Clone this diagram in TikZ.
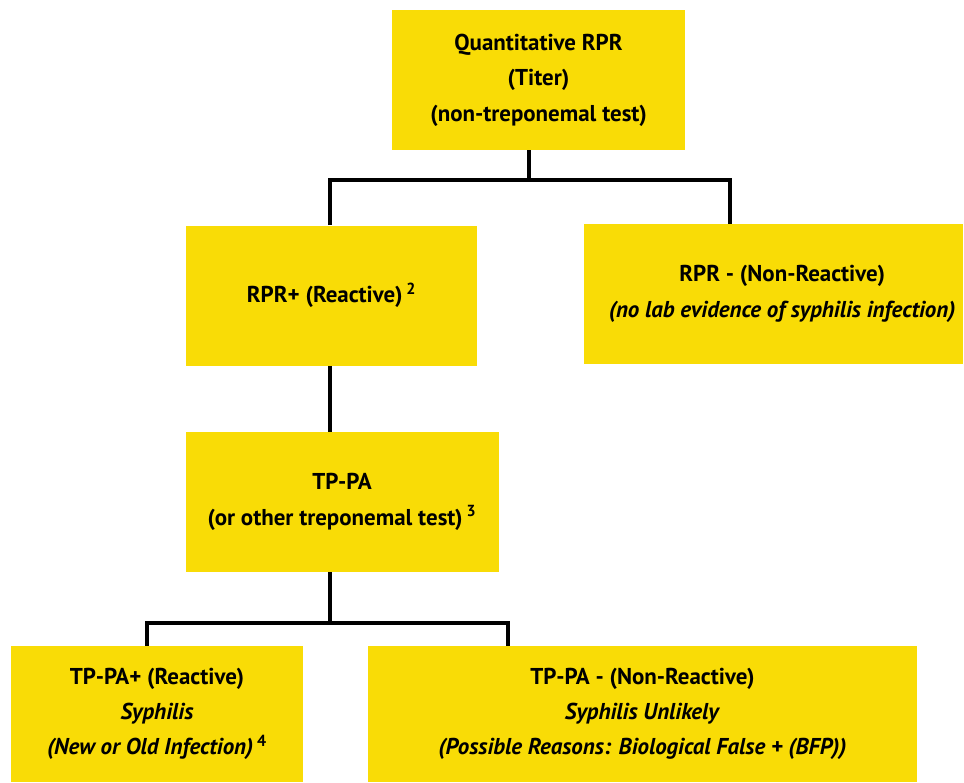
\documentclass[tikz,border=0pt]{standalone}
\usepackage{fontspec}
\setmainfont{PT Sans}
\usetikzlibrary{positioning}
\definecolor{boxyellow}{RGB}{249,220,6}

\tikzset{
  testbox/.style={fill=boxyellow, inner sep=0pt, align=center,
    font=\bfseries\fontsize{17.2}{26.5}\selectfont},
  link/.style={line width=2.6pt, black}
}

\begin{document}
\begin{tikzpicture}[x=0.75pt,y=-0.75pt]
  \useasboundingbox (0,0) rectangle (964,782);

  \node[testbox, minimum width=293*0.75pt, minimum height=140*0.75pt] (rpr) at (538.5,80)
    {Quantitative RPR\\(Titer)\\(non-treponemal test)};
  \node[testbox, minimum width=291*0.75pt, minimum height=140*0.75pt] (rprpos) at (331.5,295.5)
    {\raisebox{3pt}{RPR+ (Reactive)\,\textsuperscript{2}}};
  \node[testbox, minimum width=379*0.75pt, minimum height=140*0.75pt] (rprneg) at (773.5,294)
    {\hspace*{13pt}RPR - (Non-Reactive)\\\hspace*{13pt}\textit{(no lab evidence of syphilis infection)}};
  \node[testbox, minimum width=313*0.75pt, minimum height=140*0.75pt] (tppa) at (342,502)
    {TP-PA\\(or other treponemal test)\,\textsuperscript{3}};
  \node[testbox, minimum width=292*0.75pt, minimum height=136*0.75pt] (tppapos) at (157,714)
    {TP-PA+ (Reactive)\\\textit{Syphilis}\\\textit{(New or Old Infection)}\,\textsuperscript{4}};
  \node[testbox, minimum width=549*0.75pt, minimum height=136*0.75pt] (tppaneg) at (642.5,714)
    {TP-PA - (Non-Reactive)\\\textit{Syphilis Unlikely}\\\textit{(Possible Reasons: Biological False + (BFP))}};

  % branch points
  \coordinate (split1) at (529,180);
  \coordinate (split1l) at (330,180);
  \coordinate (split1r) at (730,180);
  \coordinate (split2) at (330,623);
  \coordinate (split2l) at (147,623);
  \coordinate (split2r) at (508,623);

  \draw[link] (rpr.south -| split1) -- (split1);
  \draw[link] (split1l |- rprpos.north) -- (split1l) -- (split1r) -- (split1r |- rprneg.north);
  \draw[link] (rprpos.south -| split1l) -- (tppa.north -| split1l);
  \draw[link] (tppa.south -| split2) -- (split2);
  \draw[link] (split2l |- tppapos.north) -- (split2l) -- (split2r) -- (split2r |- tppaneg.north);
\end{tikzpicture}
\end{document}
